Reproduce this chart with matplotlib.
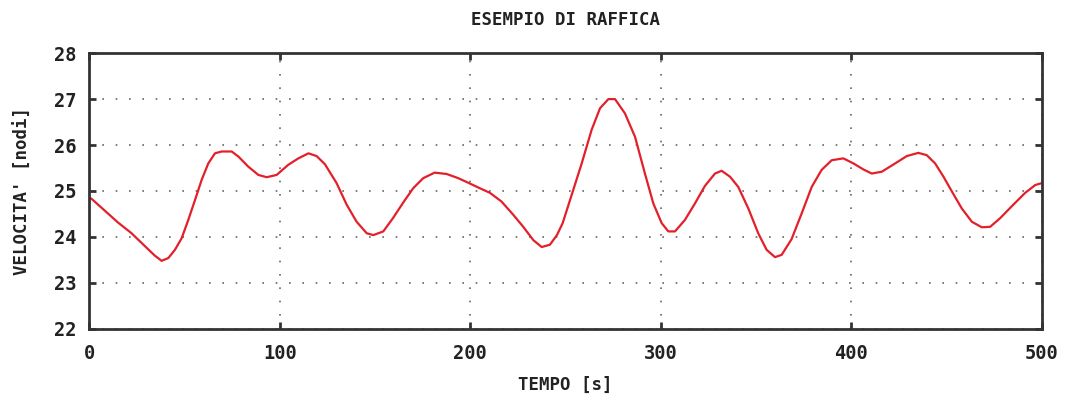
import matplotlib.pyplot as plt

# velocità del vento nel tempo (raffica)
tempo = [0, 1.1, 8.1, 15.1, 22.1, 29.1, 34.4, 37.9, 41.4, 44.9, 48.4, 51.9, 55.4, 58.9,
         62.4, 65.9, 69.4, 74.7, 78.2, 83.4, 88.7, 93.1, 98.3, 104.4, 109.7, 115, 119.3,
         123.7, 129.8, 135.1, 140.3, 145.6, 149.1, 154.3, 159.4, 164.8, 170, 175.3, 181.3,
         187.6, 193.6, 198.9, 205, 210.3, 216.4, 222.6, 227.8, 233.1, 237.5, 241.8, 245.5,
         248.5, 253.2, 258.5, 263.7, 268.1, 272.5, 276, 281.2, 286.5, 291.7, 296.1, 300.5,
         304, 307.5, 312.7, 318, 323.2, 328.5, 332, 336.4, 340.7, 346, 351.2, 355.6, 360,
         363.5, 368.7, 374, 379.3, 384.5, 389.8, 395.9, 401.2, 406.4, 410.8, 416.1, 423.1,
         429.2, 435.3, 439.7, 444.1, 448.5, 452.9, 458.1, 463.4, 468.6, 473, 478.3, 484.4,
         491.4, 496.7, 500]
velocita = [24.85, 24.83, 24.57, 24.31, 24.08, 23.8, 23.59, 23.48, 23.54, 23.72, 23.97,
            24.37, 24.8, 25.24, 25.6, 25.82, 25.86, 25.86, 25.75, 25.53, 25.35, 25.3, 25.35,
            25.57, 25.71, 25.82, 25.76, 25.58, 25.17, 24.7, 24.33, 24.08, 24.04, 24.12, 24.41,
            24.75, 25.06, 25.28, 25.4, 25.37, 25.28, 25.18, 25.06, 24.96, 24.77, 24.48, 24.22,
            23.93, 23.78, 23.83, 24.04, 24.3, 24.91, 25.6, 26.33, 26.8, 27.0, 27.0, 26.69,
            26.18, 25.38, 24.73, 24.3, 24.12, 24.12, 24.37, 24.73, 25.11, 25.38, 25.44, 25.31,
            25.09, 24.62, 24.08, 23.72, 23.56, 23.61, 23.95, 24.51, 25.09, 25.46, 25.67, 25.71,
            25.6, 25.47, 25.38, 25.42, 25.6, 25.76, 25.83, 25.78, 25.6, 25.31, 24.99, 24.62,
            24.33, 24.21, 24.22, 24.41, 24.67, 24.96, 25.13, 25.17]

xticks = [0, 100, 200, 300, 400, 500]
yticks = [22, 23, 24, 25, 26, 27, 28]

font = {'family': 'DejaVu Sans Mono', 'weight': 'bold', 'color': '#222222'}

fig = plt.figure(figsize=(10.65, 3.94), dpi=100)
ax = fig.add_axes([0.084, 0.1655, 0.894, 0.6995])

ax.plot(tempo, velocita, color='#e3202a', linewidth=1.6)

ax.set_xlim(0, 500)
ax.set_ylim(22, 28)
ax.set_xticks(xticks)
ax.set_yticks(yticks)
ax.set_xticklabels([str(t) for t in xticks], fontdict=font, fontsize=13.5)
ax.set_yticklabels([str(t) for t in yticks], fontdict=font, fontsize=13.5)
ax.tick_params(direction='in', length=5, width=2, color='#333333',
               top=True, right=True)
ax.tick_params(axis='x', pad=11)
ax.tick_params(axis='y', pad=9)

ax.grid(True, color='#666666', linestyle=(0, (1, 7)), linewidth=1.2)

for s in ax.spines.values():
    s.set_linewidth(2)
    s.set_color('#333333')

ax.set_title('ESEMPIO DI RAFFICA', fontdict=font, fontsize=12.5, pad=20)
ax.set_xlabel('TEMPO [s]', fontdict=font, fontsize=12.5, labelpad=9)
ax.set_ylabel("VELOCITA' [nodi]", fontdict=font, fontsize=12.5, labelpad=16)

fig.savefig('out.png', dpi=100)
